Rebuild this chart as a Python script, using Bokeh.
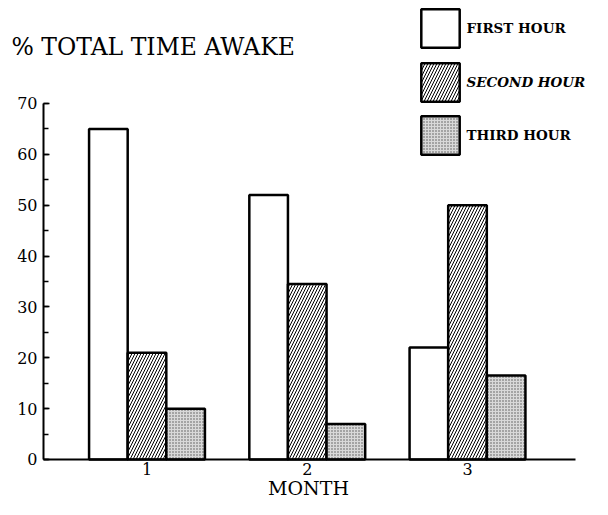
from bokeh.plotting import figure
from bokeh.models import (ColumnDataSource, Range1d, SingleIntervalTicker, FixedTicker,
                          Legend, LegendItem, Label)
from bokeh.transform import dodge
from bokeh.embed import file_html
from bokeh.resources import INLINE

months = [1, 2, 3]
month_labels = ["1", "2", "3"]
first_hour = [65, 52, 22]
second_hour = [21, 34.5, 50]
third_hour = [10, 7, 16.5]
series_names = ["FIRST HOUR", "SECOND HOUR", "THIRD HOUR"]
y_min, y_max, y_step = 0, 70, 10

FONT = "DejaVu Serif"
BW = 0.241

src = ColumnDataSource(dict(month=months, first=first_hour, second=second_hour, third=third_hour))

# frame fills the whole canvas; axes are placed inside with fixed_location
p = figure(width=592, height=499, output_backend="svg", toolbar_location=None,
           x_range=Range1d(0.0858, 3.780), y_range=Range1d(-7.865, 90.25),
           min_border=0)
p.background_fill_color = "white"
p.border_fill_color = "white"
p.outline_line_color = None
p.xgrid.visible = False
p.ygrid.visible = False

common = dict(width=BW, bottom=0, source=src, line_color="black", line_width=2.5)
r1 = p.vbar(x=dodge("month", -BW, range=p.x_range), top="first", fill_color="white", **common)
r2 = p.vbar(x=dodge("month", 0, range=p.x_range), top="second", fill_color="white",
            hatch_pattern="/", hatch_scale=6, hatch_weight=1, hatch_color="black", **common)
r3 = p.vbar(x=dodge("month", BW, range=p.x_range), top="third", fill_color="#d9d9d9",
            hatch_pattern=".", hatch_scale=3, hatch_weight=1, hatch_color="#333333", hatch_alpha=0.8,
            **common)

x_axis_at = 0.3541
x_axis_end = 3.674

# y axis
ya = p.yaxis[0]
ya.fixed_location = x_axis_at
ya.bounds = (y_min, y_max)
ya.ticker = SingleIntervalTicker(interval=y_step, num_minor_ticks=2)
ya.axis_line_width = 2
ya.axis_line_color = "black"
ya.major_tick_in = 6
ya.major_tick_out = 0
ya.minor_tick_in = 5
ya.minor_tick_out = 0
ya.major_tick_line_width = 1.5
ya.minor_tick_line_width = 1.5
ya.major_label_text_font = FONT
ya.major_label_text_font_size = "16px"
ya.major_label_text_color = "black"
ya.major_label_standoff = 6

# x axis
xa = p.xaxis[0]
xa.fixed_location = 0
xa.bounds = (x_axis_at, x_axis_end)
xa.ticker = FixedTicker(ticks=months)
xa.major_label_overrides = {m: l for m, l in zip(months, month_labels)}
xa.axis_line_width = 2
xa.axis_line_color = "black"
xa.major_tick_in = 0
xa.major_tick_out = 0
xa.minor_tick_in = 0
xa.minor_tick_out = 0
xa.major_label_text_font = FONT
xa.major_label_text_font_size = "16px"
xa.major_label_text_color = "black"
xa.major_label_standoff = 4

# axis titles
month_title = Label(x=308, y=12, x_units="screen", y_units="screen", text="MONTH",
                    text_font=FONT, text_font_size="19px", text_color="black",
                    text_baseline="middle", text_align="center")
p.add_layout(month_title)

cap = Label(x=11, y=453, x_units="screen", y_units="screen", text="% TOTAL TIME AWAKE",
            text_font=FONT, text_font_size="23.5px", text_color="black",
            text_baseline="middle", text_align="left")
p.add_layout(cap)

# legends
positions = [447.5, 393.5, 340]
styles = ["bold", "bold italic", "bold"]
for r, name, vy, st in zip([r1, r2, r3], series_names, positions, styles):
    leg = Legend(items=[LegendItem(label=name, renderers=[r])], location=(415.5, vy),
                 glyph_width=48, glyph_height=48, label_standoff=3, padding=0, margin=0,
                 spacing=0, border_line_color=None, background_fill_alpha=0,
                 label_text_font=FONT, label_text_font_size="13.5px",
                 label_text_font_style=st, label_text_color="black")
    p.add_layout(leg)

open("out.html", "w").write(file_html(p, INLINE))
